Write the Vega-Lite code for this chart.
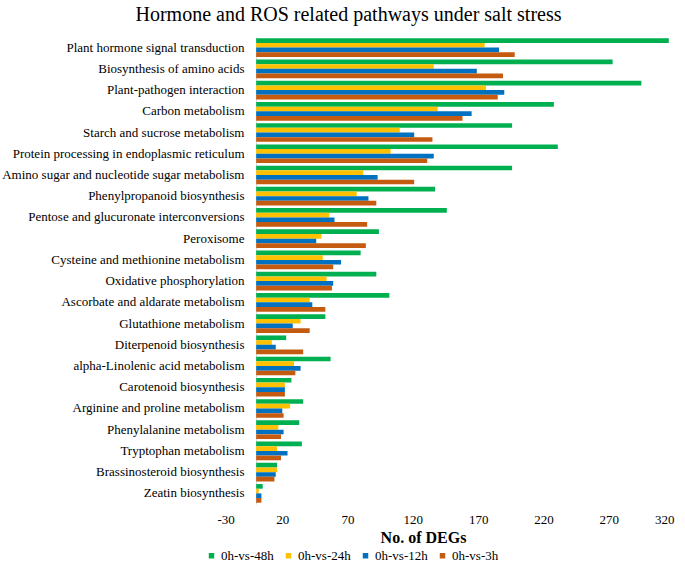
{
  "$schema": "https://vega.github.io/schema/vega-lite/v6.json",
  "width": 457,
  "height": 467,
  "autosize": {"type": "none"},
  "padding": {"left": 217, "top": 37, "right": 11, "bottom": 58},
  "background": "white",
  "title": {
    "text": "Hormone and ROS related pathways under salt stress",
    "font": "Liberation Serif",
    "fontSize": 20,
    "fontWeight": "normal",
    "color": "#000000",
    "anchor": "middle",
    "dx": -97,
    "offset": 12
  },
  "data": {
    "values": [
      {"pathway": "Plant hormone signal transduction", "series": "0h-vs-48h", "value": 316},
      {"pathway": "Plant hormone signal transduction", "series": "0h-vs-24h", "value": 175},
      {"pathway": "Plant hormone signal transduction", "series": "0h-vs-12h", "value": 186},
      {"pathway": "Plant hormone signal transduction", "series": "0h-vs-3h", "value": 198},
      {"pathway": "Biosynthesis of amino acids", "series": "0h-vs-48h", "value": 273},
      {"pathway": "Biosynthesis of amino acids", "series": "0h-vs-24h", "value": 136},
      {"pathway": "Biosynthesis of amino acids", "series": "0h-vs-12h", "value": 169},
      {"pathway": "Biosynthesis of amino acids", "series": "0h-vs-3h", "value": 189},
      {"pathway": "Plant-pathogen interaction", "series": "0h-vs-48h", "value": 295},
      {"pathway": "Plant-pathogen interaction", "series": "0h-vs-24h", "value": 176},
      {"pathway": "Plant-pathogen interaction", "series": "0h-vs-12h", "value": 190},
      {"pathway": "Plant-pathogen interaction", "series": "0h-vs-3h", "value": 185},
      {"pathway": "Carbon metabolism", "series": "0h-vs-48h", "value": 228},
      {"pathway": "Carbon metabolism", "series": "0h-vs-24h", "value": 139},
      {"pathway": "Carbon metabolism", "series": "0h-vs-12h", "value": 165},
      {"pathway": "Carbon metabolism", "series": "0h-vs-3h", "value": 158},
      {"pathway": "Starch and sucrose metabolism", "series": "0h-vs-48h", "value": 196},
      {"pathway": "Starch and sucrose metabolism", "series": "0h-vs-24h", "value": 110},
      {"pathway": "Starch and sucrose metabolism", "series": "0h-vs-12h", "value": 121},
      {"pathway": "Starch and sucrose metabolism", "series": "0h-vs-3h", "value": 135},
      {"pathway": "Protein processing in endoplasmic reticulum", "series": "0h-vs-48h", "value": 231},
      {"pathway": "Protein processing in endoplasmic reticulum", "series": "0h-vs-24h", "value": 103},
      {"pathway": "Protein processing in endoplasmic reticulum", "series": "0h-vs-12h", "value": 136},
      {"pathway": "Protein processing in endoplasmic reticulum", "series": "0h-vs-3h", "value": 131},
      {"pathway": "Amino sugar and nucleotide sugar metabolism", "series": "0h-vs-48h", "value": 196},
      {"pathway": "Amino sugar and nucleotide sugar metabolism", "series": "0h-vs-24h", "value": 82},
      {"pathway": "Amino sugar and nucleotide sugar metabolism", "series": "0h-vs-12h", "value": 93},
      {"pathway": "Amino sugar and nucleotide sugar metabolism", "series": "0h-vs-3h", "value": 121},
      {"pathway": "Phenylpropanoid biosynthesis", "series": "0h-vs-48h", "value": 137},
      {"pathway": "Phenylpropanoid biosynthesis", "series": "0h-vs-24h", "value": 77},
      {"pathway": "Phenylpropanoid biosynthesis", "series": "0h-vs-12h", "value": 86},
      {"pathway": "Phenylpropanoid biosynthesis", "series": "0h-vs-3h", "value": 92},
      {"pathway": "Pentose and glucuronate interconversions", "series": "0h-vs-48h", "value": 146},
      {"pathway": "Pentose and glucuronate interconversions", "series": "0h-vs-24h", "value": 56},
      {"pathway": "Pentose and glucuronate interconversions", "series": "0h-vs-12h", "value": 60},
      {"pathway": "Pentose and glucuronate interconversions", "series": "0h-vs-3h", "value": 85},
      {"pathway": "Peroxisome", "series": "0h-vs-48h", "value": 94},
      {"pathway": "Peroxisome", "series": "0h-vs-24h", "value": 50},
      {"pathway": "Peroxisome", "series": "0h-vs-12h", "value": 46},
      {"pathway": "Peroxisome", "series": "0h-vs-3h", "value": 84},
      {"pathway": "Cysteine and methionine metabolism", "series": "0h-vs-48h", "value": 80},
      {"pathway": "Cysteine and methionine metabolism", "series": "0h-vs-24h", "value": 51},
      {"pathway": "Cysteine and methionine metabolism", "series": "0h-vs-12h", "value": 65},
      {"pathway": "Cysteine and methionine metabolism", "series": "0h-vs-3h", "value": 59},
      {"pathway": "Oxidative phosphorylation", "series": "0h-vs-48h", "value": 92},
      {"pathway": "Oxidative phosphorylation", "series": "0h-vs-24h", "value": 54},
      {"pathway": "Oxidative phosphorylation", "series": "0h-vs-12h", "value": 59},
      {"pathway": "Oxidative phosphorylation", "series": "0h-vs-3h", "value": 58},
      {"pathway": "Ascorbate and aldarate metabolism", "series": "0h-vs-48h", "value": 102},
      {"pathway": "Ascorbate and aldarate metabolism", "series": "0h-vs-24h", "value": 41},
      {"pathway": "Ascorbate and aldarate metabolism", "series": "0h-vs-12h", "value": 43},
      {"pathway": "Ascorbate and aldarate metabolism", "series": "0h-vs-3h", "value": 53},
      {"pathway": "Glutathione metabolism", "series": "0h-vs-48h", "value": 53},
      {"pathway": "Glutathione metabolism", "series": "0h-vs-24h", "value": 34},
      {"pathway": "Glutathione metabolism", "series": "0h-vs-12h", "value": 28},
      {"pathway": "Glutathione metabolism", "series": "0h-vs-3h", "value": 41},
      {"pathway": "Diterpenoid biosynthesis", "series": "0h-vs-48h", "value": 23},
      {"pathway": "Diterpenoid biosynthesis", "series": "0h-vs-24h", "value": 12},
      {"pathway": "Diterpenoid biosynthesis", "series": "0h-vs-12h", "value": 15},
      {"pathway": "Diterpenoid biosynthesis", "series": "0h-vs-3h", "value": 36},
      {"pathway": "alpha-Linolenic acid metabolism", "series": "0h-vs-48h", "value": 57},
      {"pathway": "alpha-Linolenic acid metabolism", "series": "0h-vs-24h", "value": 29},
      {"pathway": "alpha-Linolenic acid metabolism", "series": "0h-vs-12h", "value": 34},
      {"pathway": "alpha-Linolenic acid metabolism", "series": "0h-vs-3h", "value": 30},
      {"pathway": "Carotenoid biosynthesis", "series": "0h-vs-48h", "value": 27},
      {"pathway": "Carotenoid biosynthesis", "series": "0h-vs-24h", "value": 22},
      {"pathway": "Carotenoid biosynthesis", "series": "0h-vs-12h", "value": 22},
      {"pathway": "Carotenoid biosynthesis", "series": "0h-vs-3h", "value": 22},
      {"pathway": "Arginine and proline metabolism", "series": "0h-vs-48h", "value": 36},
      {"pathway": "Arginine and proline metabolism", "series": "0h-vs-24h", "value": 26},
      {"pathway": "Arginine and proline metabolism", "series": "0h-vs-12h", "value": 20},
      {"pathway": "Arginine and proline metabolism", "series": "0h-vs-3h", "value": 21},
      {"pathway": "Phenylalanine metabolism", "series": "0h-vs-48h", "value": 33},
      {"pathway": "Phenylalanine metabolism", "series": "0h-vs-24h", "value": 17},
      {"pathway": "Phenylalanine metabolism", "series": "0h-vs-12h", "value": 21},
      {"pathway": "Phenylalanine metabolism", "series": "0h-vs-3h", "value": 19},
      {"pathway": "Tryptophan metabolism", "series": "0h-vs-48h", "value": 35},
      {"pathway": "Tryptophan metabolism", "series": "0h-vs-24h", "value": 16},
      {"pathway": "Tryptophan metabolism", "series": "0h-vs-12h", "value": 24},
      {"pathway": "Tryptophan metabolism", "series": "0h-vs-3h", "value": 19},
      {"pathway": "Brassinosteroid biosynthesis", "series": "0h-vs-48h", "value": 16},
      {"pathway": "Brassinosteroid biosynthesis", "series": "0h-vs-24h", "value": 16},
      {"pathway": "Brassinosteroid biosynthesis", "series": "0h-vs-12h", "value": 15},
      {"pathway": "Brassinosteroid biosynthesis", "series": "0h-vs-3h", "value": 14},
      {"pathway": "Zeatin biosynthesis", "series": "0h-vs-48h", "value": 5},
      {"pathway": "Zeatin biosynthesis", "series": "0h-vs-24h", "value": 2},
      {"pathway": "Zeatin biosynthesis", "series": "0h-vs-12h", "value": 4},
      {"pathway": "Zeatin biosynthesis", "series": "0h-vs-3h", "value": 4}
    ]
  },
  "mark": {"type": "bar"},
  "encoding": {
    "y": {
      "field": "pathway",
      "type": "nominal",
      "sort": [
        "Plant hormone signal transduction",
        "Biosynthesis of amino acids",
        "Plant-pathogen interaction",
        "Carbon metabolism",
        "Starch and sucrose metabolism",
        "Protein processing in endoplasmic reticulum",
        "Amino sugar and nucleotide sugar metabolism",
        "Phenylpropanoid biosynthesis",
        "Pentose and glucuronate interconversions",
        "Peroxisome",
        "Cysteine and methionine metabolism",
        "Oxidative phosphorylation",
        "Ascorbate and aldarate metabolism",
        "Glutathione metabolism",
        "Diterpenoid biosynthesis",
        "alpha-Linolenic acid metabolism",
        "Carotenoid biosynthesis",
        "Arginine and proline metabolism",
        "Phenylalanine metabolism",
        "Tryptophan metabolism",
        "Brassinosteroid biosynthesis",
        "Zeatin biosynthesis"
      ],
      "scale": {"paddingInner": 0.12, "paddingOuter": 0.06},
      "axis": {
        "title": null,
        "offset": -39,
        "ticks": false,
        "labelPadding": 12,
        "labelFont": "Liberation Serif",
        "labelFontSize": 13,
        "labelColor": "#000000",
        "labelLimit": 300,
        "domainColor": "#d9d9d9",
        "domainWidth": 1
      }
    },
    "yOffset": {
      "field": "series",
      "type": "nominal",
      "sort": ["0h-vs-48h", "0h-vs-24h", "0h-vs-12h", "0h-vs-3h"]
    },
    "x": {
      "field": "value",
      "type": "quantitative",
      "scale": {"domain": [-30, 320], "nice": false, "zero": false},
      "axis": {
        "values": [-30, 20, 70, 120, 170, 220, 270, 320],
        "labelExpr": "'' + datum.value",
        "grid": false,
        "domain": false,
        "ticks": false,
        "labelPadding": 9,
        "labelFont": "Liberation Serif",
        "labelFontSize": 13,
        "labelColor": "#000000",
        "title": "No. of DEGs",
        "titleFont": "Liberation Serif",
        "titleFontSize": 16,
        "titleFontWeight": "bold",
        "titleColor": "#000000",
        "titleX": 206,
        "titlePadding": 3
      }
    },
    "x2": {"datum": 0},
    "color": {
      "field": "series",
      "type": "nominal",
      "scale": {
        "domain": ["0h-vs-48h", "0h-vs-24h", "0h-vs-12h", "0h-vs-3h"],
        "range": ["#00B050", "#FFC000", "#0070C0", "#C55A11"]
      },
      "legend": {
        "title": null,
        "orient": "none",
        "direction": "horizontal",
        "legendX": -12,
        "legendY": 512,
        "symbolType": "square",
        "symbolSize": 30,
        "symbolStrokeWidth": 0,
        "labelFont": "Liberation Serif",
        "labelFontSize": 13,
        "labelColor": "#000000",
        "labelOffset": 3,
        "columnPadding": 8
      }
    }
  },
  "config": {"view": {"stroke": null}}
}
